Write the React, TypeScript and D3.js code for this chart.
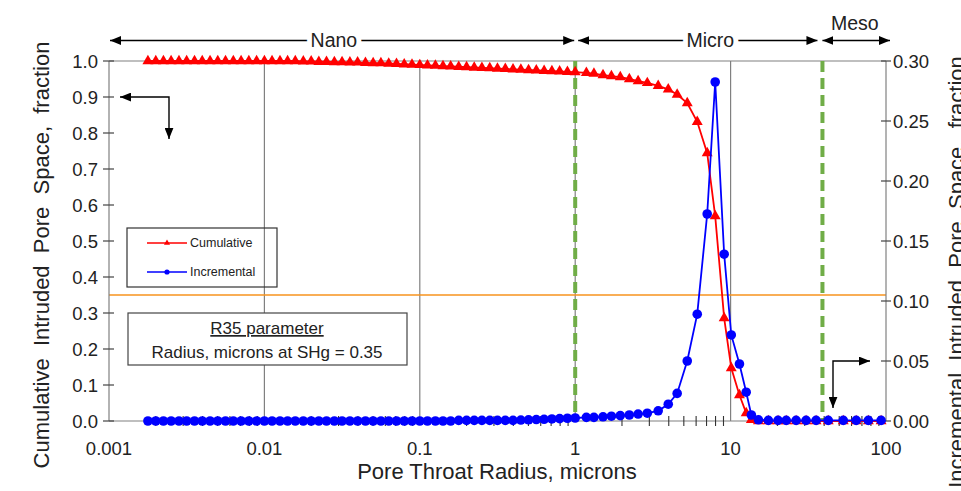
import React, { useEffect } from "react";
import * as d3 from "d3";

// pore throat radius (microns) of every measured point
const radius = [
  0.00178, 0.002, 0.00224, 0.00251, 0.00282, 0.00316, 0.00355, 0.00398, 0.00447, 0.00501,
  0.00562, 0.00631, 0.00708, 0.00794, 0.00891, 0.01, 0.0112, 0.0126, 0.0141, 0.0158,
  0.0178, 0.02, 0.0224, 0.0251, 0.0282, 0.0316, 0.0355, 0.0398, 0.0447, 0.0501,
  0.0562, 0.0631, 0.0708, 0.0794, 0.0891, 0.1, 0.112, 0.126, 0.141, 0.158,
  0.178, 0.2, 0.224, 0.251, 0.282, 0.316, 0.355, 0.398, 0.447, 0.501,
  0.562, 0.631, 0.708, 0.794, 0.891, 1.0,
  1.18, 1.32, 1.51, 1.71, 1.95, 2.23, 2.54, 2.91, 3.42, 3.97,
  4.53, 5.26, 6.1, 7.07, 7.96, 9.09, 10.1, 11.4, 12.6, 13.6,
  15.1, 17.5, 20.2, 22.8, 26.4, 30.6, 35.5, 42.5, 53.1, 64.3, 77.0, 93.0,
];

// cumulative intruded pore space, fraction (left axis)
const cumulative = [
  1, 1, 1, 1, 1, 1, 1, 1, 1, 1,
  1, 1, 1, 1, 1, 1, 1, 1, 1, 1,
  0.999, 0.999, 0.998, 0.998, 0.997, 0.997, 0.996, 0.996,
  0.995, 0.994, 0.994, 0.993, 0.992, 0.991, 0.99, 0.989,
  0.988, 0.987, 0.986, 0.985, 0.984, 0.983, 0.982, 0.981, 0.98, 0.979,
  0.978, 0.977, 0.976, 0.975, 0.974, 0.973, 0.972, 0.971, 0.97, 0.969,
  0.967, 0.965, 0.961, 0.958, 0.955, 0.95, 0.944, 0.939, 0.931, 0.921,
  0.907, 0.883, 0.831, 0.744, 0.569, 0.286, 0.147, 0.072, 0.022, 0.003,
  0, 0, 0, 0, 0, 0, 0, 0, 0, 0, 0, 0,
];

// incremental intruded pore space, fraction (right axis)
const incremental = [
  0, 0, 0, 0, 0, 0, 0, 0, 0, 0,
  0, 0, 0, 0, 0, 0, 0, 0, 0, 0,
  0, 0, 0, 0, 0, 0, 0, 0, 0, 0,
  0, 0, 0, 0, 0, 0, 0, 0, 0, 0,
  0.0005, 0.0005, 0.0005, 0.0005, 0.0005, 0.0005, 0.0005, 0.0005,
  0.0008, 0.001, 0.0012, 0.0014, 0.0017, 0.002, 0.0023, 0.0025,
  0.003, 0.003, 0.0035, 0.004, 0.0045, 0.005, 0.0058, 0.0065, 0.0085, 0.014,
  0.023, 0.05, 0.089, 0.1725, 0.2825, 0.139, 0.0717, 0.0475, 0.024, 0.005,
  0.001, 0.0005, 0.0005, 0.0005, 0.0005, 0.0005, 0.0005, 0.0005, 0.0005, 0.0005, 0.0005, 0.0005,
];

const xTicks = [0.001, 0.01, 0.1, 1, 10, 100];
const leftTicks = [0, 0.1, 0.2, 0.3, 0.4, 0.5, 0.6, 0.7, 0.8, 0.9, 1.0];
const rightTicks = [0, 0.05, 0.1, 0.15, 0.2, 0.25, 0.3];
const gridX = [0.01, 0.1, 1, 10];
const boundaries = [1, 39];
const zoneNames = ["Nano", "Micro", "Meso"];
const zoneFrom = [0.001, 1, 39];
const zoneTo = [1, 39, 100];
const zoneLabelAt = [0.028, 7.4, 63];
const r35 = 0.35;

const FONT = "'Liberation Sans', Arial, sans-serif";

export default function App() {
  useEffect(() => {
    document.body.style.margin = "0";
  }, []);

  const W = 961, H = 491;
  const left = 109, right = 886, top = 61, bottom = 421;

  const x = d3.scaleLog().domain([0.001, 100]).range([left, right]);
  const yL = d3.scaleLinear().domain([0, 1]).range([bottom, top]);
  const yR = d3.scaleLinear().domain([0, 0.3]).range([bottom, top]);

  const cumPts = radius.map((r, i) => [x(r), yL(cumulative[i])] as [number, number]);
  const incPts = radius.map((r, i) => [x(r), yR(incremental[i])] as [number, number]);
  const line = d3.line();
  const tri = d3.symbol(d3.symbolTriangle, 52)()!;
  const triSmall = d3.symbol(d3.symbolTriangle, 16)()!;

  const minor = x.ticks().filter((t) => !xTicks.some((m) => Math.abs(m - t) / m < 1e-6));
  const grey = "#808080";

  // small corner arrows
  const la = { cx: left + 60, cy: yL(0.9) };
  const ra = { cx: right - 53, cy: yR(0.05) };

  return (
    <svg width={W} height={H} style={{ position: "absolute", left: 0, top: 0, background: "#fff" }} fontFamily={FONT}>
      <defs>
        <marker id="ah" viewBox="0 0 10 8" refX="10" refY="4" markerWidth="11" markerHeight="9"
          markerUnits="userSpaceOnUse" orient="auto-start-reverse">
          <path d="M0,0 L10,4 L0,8 Z" fill="#000" />
        </marker>
      </defs>

      {/* frame and grid */}
      <line x1={left} x2={right} y1={top} y2={top} stroke={grey} strokeWidth={1.2} />
      {gridX.map((g) => (
        <line key={g} x1={x(g)} x2={x(g)} y1={top} y2={bottom} stroke={grey} strokeWidth={1.2} />
      ))}

      {/* R35 line */}
      <line x1={left} x2={right} y1={yL(r35)} y2={yL(r35)} stroke="#f7931e" strokeWidth={1.6} />

      {/* zone boundaries */}
      {boundaries.map((b) => (
        <line key={b} x1={x(b)} x2={x(b)} y1={top} y2={bottom} stroke="#70ad47" strokeWidth={4}
          strokeDasharray="11 6" />
      ))}

      {/* axes */}
      <line x1={left} x2={left} y1={top} y2={bottom} stroke={grey} strokeWidth={1.2} />
      <line x1={right} x2={right} y1={top} y2={bottom} stroke={grey} strokeWidth={1.2} />
      <line x1={left} x2={right} y1={bottom} y2={bottom} stroke={grey} strokeWidth={1.2} />
      {leftTicks.map((t) => (
        <g key={t}>
          <line x1={left - 6} x2={left + 5} y1={yL(t)} y2={yL(t)} stroke="#444" strokeWidth={1.2} />
          <text x={left - 11} y={yL(t) + 6.7} textAnchor="end" fontSize={18.5} fill="#222">
            {d3.format(".1f")(t)}
          </text>
        </g>
      ))}
      {rightTicks.map((t) => (
        <g key={t}>
          <line x1={right - 5} x2={right + 5} y1={yR(t)} y2={yR(t)} stroke="#444" strokeWidth={1.2} />
          <text x={right + 7} y={yR(t) + 6.7} fontSize={18.5} fill="#222">
            {d3.format(".2f")(t)}
          </text>
        </g>
      ))}
      {minor.map((t) => (
        <line key={t} x1={x(t)} x2={x(t)} y1={bottom - 5} y2={bottom + 5} stroke="#333" strokeWidth={1.1} />
      ))}
      {xTicks.map((t) => (
        <text key={t} x={x(t)} y={455} textAnchor="middle" fontSize={18.5} fill="#222">
          {d3.format("~g")(t)}
        </text>
      ))}

      {/* series */}
      <path d={line(cumPts)!} fill="none" stroke="#ff0000" strokeWidth={1.8} />
      {cumPts.map((p, i) => (
        <path key={"c" + i} d={tri} transform={`translate(${p[0]},${p[1]})`} fill="#ff0000" />
      ))}
      <path d={line(incPts)!} fill="none" stroke="#0000ff" strokeWidth={1.8} />
      {incPts.map((p, i) => (
        <circle key={"i" + i} cx={p[0]} cy={p[1]} r={4.8} fill="#0000ff" />
      ))}

      {/* axis titles */}
      <text x={497} y={479} textAnchor="middle" fontSize={22} fill="#222">
        Pore Throat Radius, microns
      </text>
      <text transform={`translate(49,255) rotate(-90)`} textAnchor="middle" fontSize={22} fill="#222"
        style={{ whiteSpace: "pre" }}>
        {"Cumulative  Intruded  Pore  Space,  fraction"}
      </text>
      <text transform={`translate(964,272) rotate(-90)`} textAnchor="middle" fontSize={22} fill="#222"
        style={{ whiteSpace: "pre" }}>
        {"Incremental  Intruded  Pore  Space,  fraction"}
      </text>

      {/* legend */}
      <rect x={127} y={228} width={150} height={59} fill="none" stroke="#333" strokeWidth={1.2} />
      <line x1={147} x2={187} y1={243} y2={243} stroke="#ff0000" strokeWidth={1.6} />
      <path d={triSmall} transform="translate(167,243)" fill="#ff0000" />
      <text x={190} y={247} fontSize={12.5} fill="#222">Cumulative</text>
      <line x1={147} x2={187} y1={272} y2={272} stroke="#0000ff" strokeWidth={1.6} />
      <circle cx={167} cy={272} r={2.6} fill="#0000ff" />
      <text x={190} y={276} fontSize={12.5} fill="#222">Incremental</text>

      {/* R35 box */}
      <rect x={128} y={313} width={279} height={52} fill="#fff" stroke="#444" strokeWidth={1.2} />
      <text x={267} y={334} textAnchor="middle" fontSize={17} fill="#222" textDecoration="underline">
        R35 parameter
      </text>
      <text x={267} y={358} textAnchor="middle" fontSize={17} fill="#222">
        Radius, microns at SHg = 0.35
      </text>

      {/* zone arrows */}
      {zoneNames.map((n, i) => {
        const x1 = x(zoneFrom[i]) + (i === 0 ? 1 : i === 1 ? 3 : 0);
        const x2 = i === 2 ? right + 4 : x(zoneTo[i]) - (i === 0 ? 1 : 5);
        return (
          <g key={n}>
            <line x1={x1} x2={x2} y1={40.5} y2={40.5} stroke="#000" strokeWidth={1.4}
              markerStart="url(#ah)" markerEnd="url(#ah)" />
            {i < 2 ? (
              <text x={x(zoneLabelAt[i])} y={47} textAnchor="middle" fontSize={19.5} fill="#222"
                stroke="#fff" strokeWidth={10} paintOrder="stroke">
                {n}
              </text>
            ) : (
              <text x={x(zoneLabelAt[i])} y={30} textAnchor="middle" fontSize={19.5} fill="#222">
                {n}
              </text>
            )}
          </g>
        );
      })}

      {/* axis pointer arrows */}
      <polyline points={`${left + 11},${la.cy} ${la.cx},${la.cy} ${la.cx},${la.cy + 42}`} fill="none"
        stroke="#000" strokeWidth={1.4} markerStart="url(#ah)" markerEnd="url(#ah)" />
      <polyline points={`${ra.cx},${ra.cy + 47} ${ra.cx},${ra.cy} ${right - 16},${ra.cy}`} fill="none"
        stroke="#000" strokeWidth={1.4} markerStart="url(#ah)" markerEnd="url(#ah)" />
    </svg>
  );
}
